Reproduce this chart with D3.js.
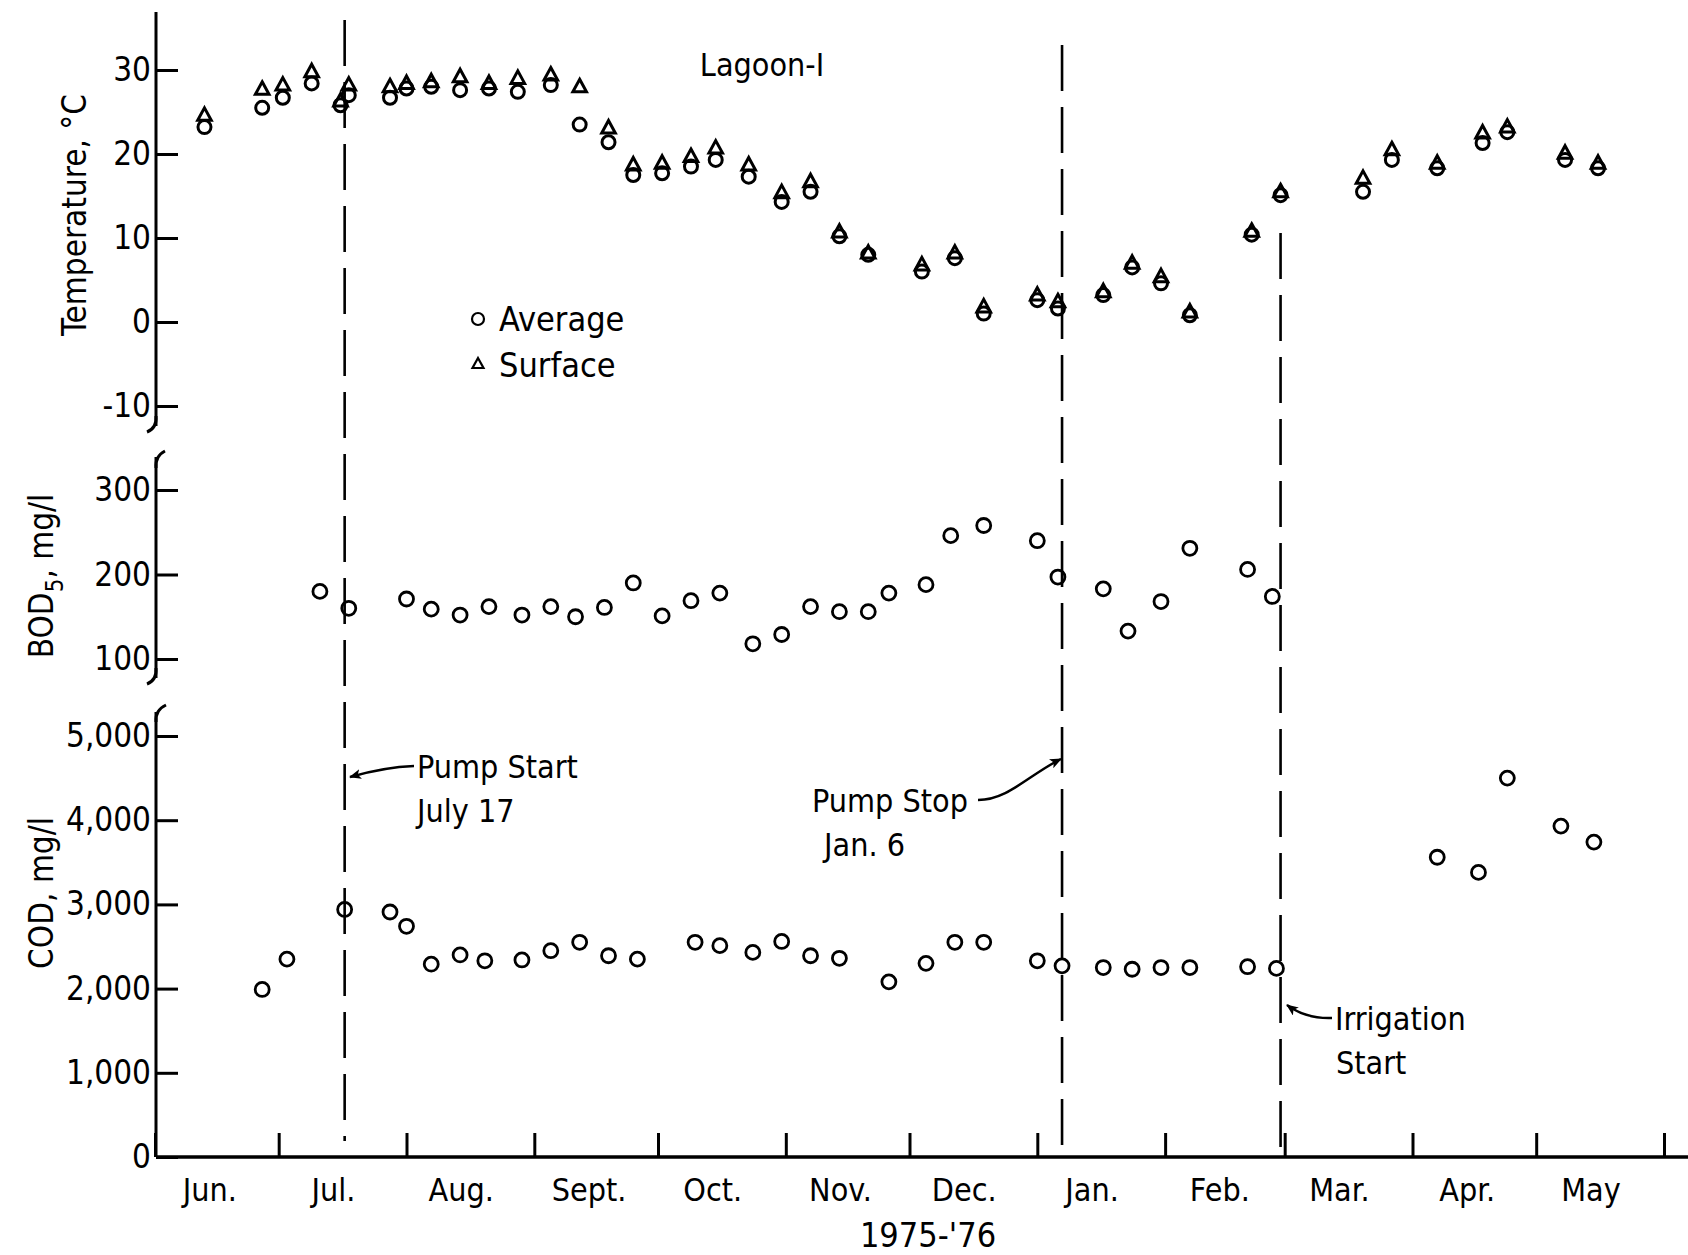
<!DOCTYPE html>
<head>
<meta charset="utf-8">
<style>
  body { margin:0; background:#fff; }
  svg { display:block; }
  text { font-family: "Liberation Sans Narrow", "DejaVu Sans Condensed", "Arial Narrow", sans-serif; fill:#000; }
  .tick text { font-size: 33px; }
  .tick line { stroke:#000; stroke-width:3px; }
</style>
<script src="https://d3js.org/d3.v7.min.js"></script>
</head>
<body>
<script>

var width = 1688;
var height = 1255;

// temperature, deg C (average = circles, surface = triangles)
var tempDates = ["1975-06-13","1975-06-27","1975-07-02","1975-07-09","1975-07-16","1975-07-18","1975-07-28","1975-08-01","1975-08-07","1975-08-14","1975-08-21","1975-08-28","1975-09-05","1975-09-12","1975-09-19","1975-09-25","1975-10-02","1975-10-09","1975-10-15","1975-10-23","1975-10-31","1975-11-07","1975-11-14","1975-11-21","1975-12-04","1975-12-12","1975-12-19","1976-01-01","1976-01-06","1976-01-17","1976-01-24","1976-01-31","1976-02-07","1976-02-22","1976-02-29","1976-03-20","1976-03-27","1976-04-07","1976-04-18","1976-04-24","1976-05-08","1976-05-16"];
var tempAverage = [23.2,25.5,26.7,28.4,25.8,27.0,26.7,27.8,28.0,27.6,27.8,27.4,28.2,23.5,21.4,17.5,17.7,18.5,19.3,17.3,14.3,15.5,10.2,8.0,6.0,7.6,1.0,2.6,1.6,3.2,6.5,4.6,0.8,10.4,15.1,15.5,19.3,18.3,21.3,22.6,19.3,18.3];
var tempSurface = [24.6,27.7,28.2,29.8,26.3,28.2,28.0,28.4,28.6,29.2,28.4,29.0,29.4,28.0,23.1,18.7,18.9,19.7,20.7,18.7,15.4,16.7,10.7,8.2,6.8,8.2,1.8,3.2,2.4,3.6,7.0,5.4,1.2,10.8,15.5,17.1,20.5,18.9,22.5,23.2,20.1,18.9];

// BOD5, mg/l
var bodDates = ["1975-07-11","1975-07-18","1975-08-01","1975-08-07","1975-08-14","1975-08-21","1975-08-29","1975-09-05","1975-09-11","1975-09-18","1975-09-25","1975-10-02","1975-10-09","1975-10-16","1975-10-24","1975-10-31","1975-11-07","1975-11-14","1975-11-21","1975-11-26","1975-12-05","1975-12-11","1975-12-19","1976-01-01","1976-01-06","1976-01-17","1976-01-23","1976-01-31","1976-02-07","1976-02-21","1976-02-27"];
var bodValues = [180,160,171,159,152,162,152,162,150,161,190,151,169,178,118,129,162,156,156,178,188,246,258,240,197,183,133,168,231,206,174];

// COD, mg/l
var codDates = ["1975-06-27","1975-07-03","1975-07-17","1975-07-28","1975-08-01","1975-08-07","1975-08-14","1975-08-20","1975-08-29","1975-09-05","1975-09-12","1975-09-19","1975-09-26","1975-10-10","1975-10-16","1975-10-24","1975-10-31","1975-11-07","1975-11-14","1975-11-26","1975-12-05","1975-12-12","1975-12-19","1976-01-01","1976-01-07","1976-01-17","1976-01-24","1976-01-31","1976-02-07","1976-02-21","1976-02-28","1976-04-07","1976-04-17","1976-04-24","1976-05-07","1976-05-15"];
var codValues = [1990,2350,2940,2910,2740,2290,2400,2330,2340,2450,2550,2390,2350,2550,2510,2430,2560,2390,2360,2080,2300,2550,2550,2330,2270,2250,2230,2250,2250,2260,2240,3560,3380,4500,3930,3740];

var monthLabels = ["Jun.","Jul.","Aug.","Sept.","Oct.","Nov.","Dec.","Jan.","Feb.","Mar.","Apr.","May"];
var tempTicks = [-10,0,10,20,30];
var bodTicks = [100,200,300];
var codTicks = [0,1000,2000,3000,4000,5000];

// pump start, pump stop, irrigation start
var eventDates = ["1975-07-17","1976-01-07","1976-02-29"];

var parse = d3.timeParse("%Y-%m-%d");
var svg = d3.select("body").append("svg").attr("width", width).attr("height", height);

var x = d3.scaleTime()
    .domain([parse("1975-06-01"), parse("1976-06-01")])
    .range([155, 1664]);
var yT = d3.scaleLinear().domain([-10, 30]).range([406, 70]);
var yB = d3.scaleLinear().domain([100, 300]).range([659, 490]);
var yC = d3.scaleLinear().domain([0, 5000]).range([1157, 736]);

var x0 = 156;

function yAxis(scale, ticks, fmt, top, bottom) {
    var g = svg.append("g")
        .attr("transform", "translate(" + x0 + ",0)")
        .call(d3.axisLeft(scale).tickValues(ticks).tickFormat(fmt).tickSize(-22).tickPadding(5));
    g.select(".domain").remove();
    g.append("line")
        .attr("y1", top).attr("y2", bottom)
        .attr("stroke", "#000").attr("stroke-width", 3);
}
yAxis(yT, tempTicks, function(d) { return String(d); }, 12, 426);
yAxis(yB, bodTicks, function(d) { return String(d); }, 457, 678);
yAxis(yC, codTicks, d3.format(","), 712, 1157);

// axis break curls
var curls = [
    "M156,416 Q157,428 147,432",
    "M156,468 Q155,456 165,451",
    "M156,668 Q157,680 147,684",
    "M156,722 Q155,710 166,705"
];
svg.selectAll(".curl").data(curls).enter().append("path")
    .attr("d", function(d) { return d; })
    .attr("fill", "none").attr("stroke", "#000").attr("stroke-width", 3);

// x axis
var gx = svg.append("g")
    .attr("transform", "translate(0," + yC(0) + ")")
    .call(d3.axisBottom(x).ticks(d3.timeMonth.every(1)).tickSize(-24).tickFormat(""));
gx.select(".domain").remove();
gx.append("line").attr("x1", x0).attr("x2", width)
    .attr("stroke", "#000").attr("stroke-width", 3.5);

svg.selectAll(".month").data(monthLabels).enter().append("text")
    .attr("x", function(d, i) { return x(new Date(1975, 5 + i, 15)) - 3; })
    .attr("y", 1201)
    .attr("text-anchor", "middle")
    .style("font-size", "32px")
    .text(function(d) { return d; });

svg.append("text").attr("x", 928).attr("y", 1247)
    .attr("text-anchor", "middle").style("font-size", "34px")
    .text("1975-'76");

// axis titles
svg.append("text")
    .attr("transform", "translate(86,215) rotate(-90)")
    .attr("text-anchor", "middle").style("font-size", "33px")
    .text("Temperature, °C");
var bt = svg.append("text")
    .attr("transform", "translate(53,576) rotate(-90)")
    .attr("text-anchor", "middle").style("font-size", "33px");
bt.append("tspan").text("BOD");
bt.append("tspan").attr("dy", 10).style("font-size", "24px").text("5");
bt.append("tspan").attr("dy", -10).text(", mg/l");
svg.append("text")
    .attr("transform", "translate(53,893) rotate(-90)")
    .attr("text-anchor", "middle").style("font-size", "33px")
    .text("COD, mg/l");

// event lines
var eventTops = [20, 45, 233];
var eventBottoms = [1141, 1152, 1157];
svg.selectAll(".event").data(eventDates).enter().append("line")
    .attr("x1", function(d) { return x(parse(d)); })
    .attr("x2", function(d) { return x(parse(d)); })
    .attr("y1", function(d, i) { return eventTops[i]; })
    .attr("y2", function(d, i) { return eventBottoms[i]; })
    .attr("stroke", "#000").attr("stroke-width", 2.6)
    .attr("stroke-dasharray", "46,16");

// markers
var tri = "M0,-7.5L6.8,5L-6.8,5Z";
var temp = tempDates.map(function(d, i) { return {date: parse(d), avg: tempAverage[i], surf: tempSurface[i]}; });

svg.append("g").selectAll("path").data(temp).enter().append("path")
    .attr("transform", function(d) { return "translate(" + x(d.date) + "," + yT(d.surf) + ")"; })
    .attr("d", tri)
    .attr("fill", "none").attr("stroke", "#000").attr("stroke-width", 3);
svg.append("g").selectAll("circle").data(temp).enter().append("circle")
    .attr("cx", function(d) { return x(d.date); })
    .attr("cy", function(d) { return yT(d.avg); })
    .attr("r", 6.5)
    .attr("fill", "none").attr("stroke", "#000").attr("stroke-width", 3);

svg.append("g").selectAll("circle").data(bodDates).enter().append("circle")
    .attr("cx", function(d) { return x(parse(d)); })
    .attr("cy", function(d, i) { return yB(bodValues[i]); })
    .attr("r", 7)
    .attr("fill", "none").attr("stroke", "#000").attr("stroke-width", 2.8);

svg.append("g").selectAll("circle").data(codDates).enter().append("circle")
    .attr("cx", function(d) { return x(parse(d)); })
    .attr("cy", function(d, i) { return yC(codValues[i]); })
    .attr("r", 7)
    .attr("fill", "none").attr("stroke", "#000").attr("stroke-width", 2.8);

// title and legend
svg.append("text").attr("x", 762).attr("y", 76)
    .attr("text-anchor", "middle").style("font-size", "32px").text("Lagoon-I");

svg.append("circle").attr("cx", 478).attr("cy", 319).attr("r", 6)
    .attr("fill", "none").attr("stroke", "#000").attr("stroke-width", 2.2);
svg.append("path").attr("transform", "translate(478,364)").attr("d", "M0,-6L5.5,4L-5.5,4Z")
    .attr("fill", "none").attr("stroke", "#000").attr("stroke-width", 2.2);
svg.append("text").attr("x", 499).attr("y", 331).style("font-size", "34px").text("Average");
svg.append("text").attr("x", 499).attr("y", 377).style("font-size", "34px").text("Surface");

// annotations
svg.append("defs").append("marker")
    .attr("id", "arrow").attr("viewBox", "0 0 12 10")
    .attr("refX", 11).attr("refY", 5)
    .attr("markerWidth", 12).attr("markerHeight", 10)
    .attr("markerUnits", "userSpaceOnUse")
    .attr("orient", "auto")
  .append("path").attr("d", "M0,0L12,5L0,10L3,5Z").attr("fill", "#000");

var arrows = [
    "M414,766 Q385,767 350,777",
    "M978,800 C1008,800 1030,774 1061,759",
    "M1332,1018 Q1306,1019 1287,1005"
];
svg.selectAll(".arrow").data(arrows).enter().append("path")
    .attr("d", function(d) { return d; })
    .attr("fill", "none").attr("stroke", "#000").attr("stroke-width", 2.4)
    .attr("marker-end", "url(#arrow)");

var notes = [
    {t: "Pump Start", x: 417, y: 778},
    {t: "July 17", x: 417, y: 822},
    {t: "Pump Stop", x: 812, y: 812},
    {t: "Jan. 6", x: 824, y: 856},
    {t: "Irrigation", x: 1335, y: 1030},
    {t: "Start", x: 1336, y: 1074}
];
svg.selectAll(".note").data(notes).enter().append("text")
    .attr("x", function(d) { return d.x; })
    .attr("y", function(d) { return d.y; })
    .style("font-size", "32px")
    .text(function(d) { return d.t; });

</script>
</body>
